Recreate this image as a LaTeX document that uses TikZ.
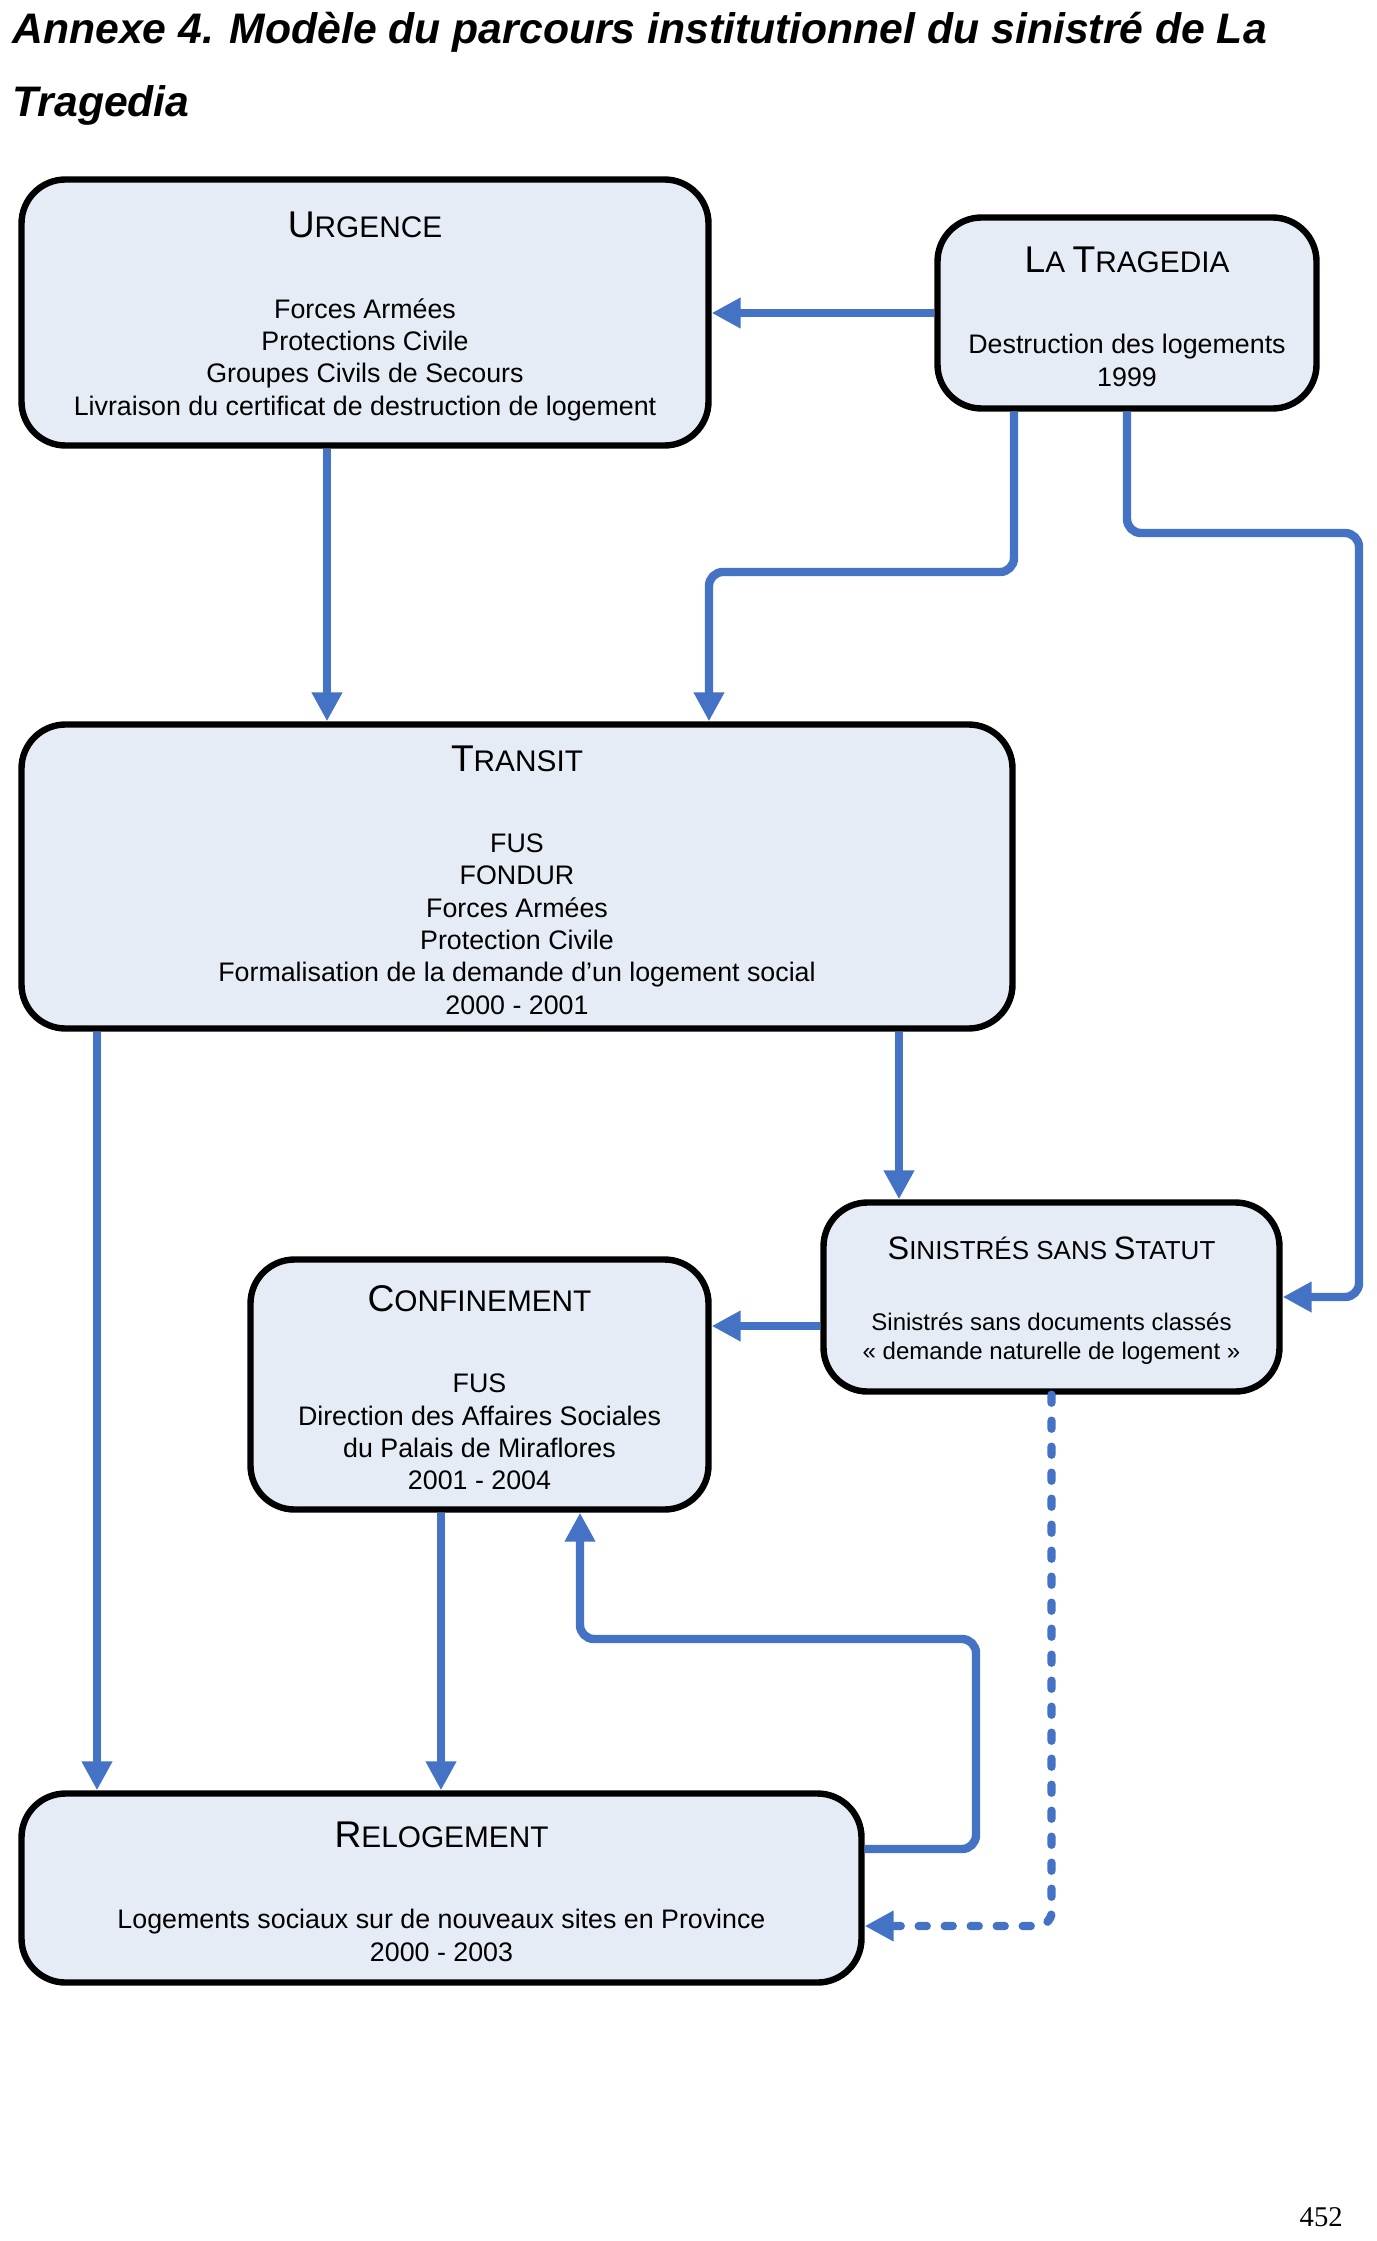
\documentclass[tikz,border=0pt]{standalone}
\usepackage{fontspec}
\setmainfont{Liberation Sans}
\newfontfamily\pagenumfont{Liberation Serif}
\usetikzlibrary{arrows.meta}
\definecolor{arrcol}{RGB}{68,114,196}
\definecolor{boxcol}{RGB}{230,236,246}
% small caps by hand (large initial, smaller capitals)
\newcommand{\sctitle}[2]{\rule{0pt}{16.5pt}{\fontsize{18.6}{16.2}\selectfont #1}{\fontsize{14.9}{16.2}\selectfont #2}}
\newcommand{\scsmall}[2]{\rule{0pt}{15pt}{\fontsize{16.2}{14.5}\selectfont #1}{\fontsize{13}{14.5}\selectfont #2}}

\begin{document}
\begin{tikzpicture}[
  x=0.5pt, y=-0.5pt,
  box/.style={rectangle, rounded corners=22pt, draw=black, line width=3.2pt, fill=boxcol,
              align=center, inner sep=0pt, font=\fontsize{13.4}{16.2}\selectfont},
  arr/.style={-{Triangle[length=14.5pt,width=14.5pt]}, line width=4.2pt, arrcol, rounded corners=7pt},
  dotarr/.style={arr, dash pattern=on 4pt off 9pt, line cap=round},
]
  \useasboundingbox (0,0) rectangle (1376,2241);

  % Heading
  \node[anchor=north west, inner sep=0pt, align=left,
        font=\fontsize{21.35}{36.5}\selectfont\bfseries\itshape] (heading) at (12,12)
    {Annexe 4. Modèle du parcours institutionnel du sinistré de La\\Tragedia};

  % Boxes
  \node[box, minimum width=189.5pt, minimum height=95.5pt] (trag) at (1127,313)
    {\sctitle{L}{A} \sctitle{T}{RAGEDIA}\\[24.3pt]Destruction des logements\\1999};
  \node[box, minimum width=343.5pt, minimum height=133pt] (urg) at (365,312.5)
    {\sctitle{U}{RGENCE}\\[24.3pt]Forces Armées\\Protections Civile\\Groupes Civils de Secours\\Livraison du certificat de destruction de logement};
  \node[box, minimum width=495.5pt, minimum height=152pt] (tra) at (517,876.5)
    {\sctitle{T}{RANSIT}\\[24.3pt]FUS\\FONDUR\\Forces Armées\\Protection Civile\\Formalisation de la demande d’un logement social\\2000 - 2001};
  \node[box, minimum width=228pt, minimum height=94.5pt, font=\fontsize{12}{14.5}\selectfont] (sin) at (1051.5,1297)
    {\scsmall{S}{INISTRÉS SANS} \scsmall{S}{TATUT}\\[21.3pt]Sinistrés sans documents classés\\«~demande naturelle de logement~»};
  \node[box, minimum width=229pt, minimum height=125pt] (conf) at (479.5,1384.5)
    {\sctitle{C}{ONFINEMENT}\\[24.3pt]FUS\\Direction des Affaires Sociales\\du Palais de Miraflores\\2001 - 2004};
  \node[box, minimum width=420pt, minimum height=94.5pt] (relo) at (441.5,1888)
    {\sctitle{R}{ELOGEMENT}\\[24.3pt]Logements sociaux sur de nouveaux sites en Province\\2000 - 2003};

  % Page number
  \node[anchor=base east, inner sep=0pt, font=\pagenumfont\fontsize{14.3}{16}\selectfont] (pagenum) at (1343,2226) {452};

  % Bends
  \coordinate (bendA) at (709,572);
  \coordinate (bendB) at (1359,533);
  \coordinate (bendC) at (976,1639);

  % Arrows
  \draw[arr] (trag.west) -- (trag.west -| urg.east);
  \draw[arr] ([xshift=-19pt]urg.south) -- ([xshift=-19pt]urg.south |- tra.north);
  \draw[arr] ([xshift=-56.5pt]trag.south) |- (bendA) -- (bendA |- tra.north);
  \draw[arr] (trag.south) |- (bendB) |- (sin.east);
  \draw[arr] ([xshift=-210pt]tra.south) -- ([xshift=-210pt]tra.south |- relo.north);
  \draw[arr] ([xshift=191pt]tra.south) -- ([xshift=191pt]tra.south |- sin.north);
  \draw[arr] ([yshift=-14.5pt]sin.west) -- ([yshift=-14.5pt]sin.west -| conf.east);
  \draw[arr] ([xshift=-19.25pt]conf.south) -- ([xshift=-19.25pt]conf.south |- relo.north);
  \draw[arr] ([yshift=19.5pt]relo.east) -| (bendC) -| ([xshift=50.25pt]conf.south);
  \draw[dotarr] (sin.south) |- ([yshift=-19pt]relo.east);

\end{tikzpicture}
\end{document}
